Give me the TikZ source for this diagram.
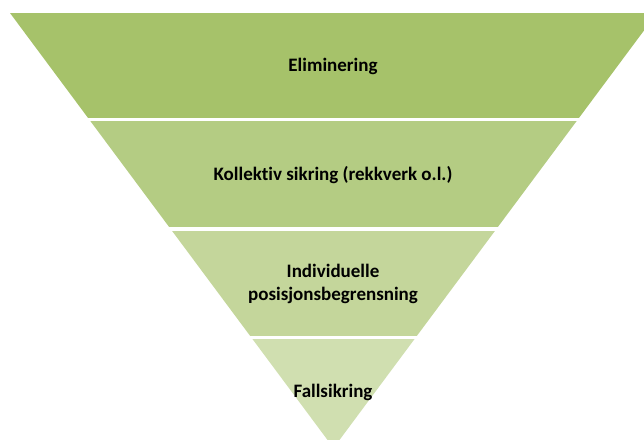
\documentclass[tikz,border=0pt]{standalone}
\usepackage{fontspec}
\setmainfont[Ligatures=NoCommon]{Carlito}
\usepackage{tikz}
\definecolor{bandA}{RGB}{166,194,106}
\definecolor{bandB}{RGB}{180,204,131}
\definecolor{bandC}{RGB}{196,214,155}
\definecolor{bandD}{RGB}{208,223,176}
\tikzset{%
  x=1pt, y=-1pt, % pixel-like coordinates, y downwards
  level/.style={font=\fontsize{19}{22.5}\selectfont\bfseries, align=center, inner sep=0pt}
}

\begin{document}
\begin{tikzpicture}
    \useasboundingbox (0,0) rectangle (644,439);
    \clip (0,0) rectangle (644,439);

    \begin{scope}
      \clip (10,13) -- (657,13) -- (333.5,448) -- cycle; % the inverted triangle
      \fill[bandA] (0,13) rectangle (660,118);
      \fill[bandB] (0,121) rectangle (660,227);
      \fill[bandC] (0,231) rectangle (660,336);
      \fill[bandD] (0,339) rectangle (660,450);
    \end{scope}

    \node[level] (elim) at (333,66) {Eliminering};
    \node[level] (kollektiv) at (333,175) {Kollektiv sikring (rekkverk o.l.)};
    \node[level] (individ) at (333,284) {Individuelle\\posisjonsbegrensning};
    \node[level] (fall) at (333,392) {Fallsikring};
  \end{tikzpicture}
\end{document}
